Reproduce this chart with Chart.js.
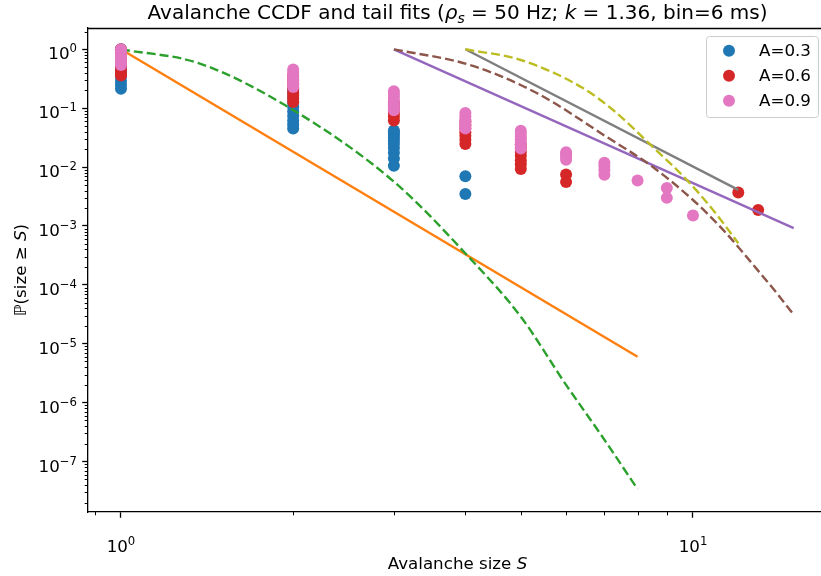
<!DOCTYPE html>
<html>
<head>
<meta charset="utf-8">
<script src="https://cdn.jsdelivr.net/npm/chart.js@4.4.0/dist/chart.umd.min.js"></script>
<style>
  html, body { margin: 0; padding: 0; background: #fff; overflow: hidden; }
  #wrap { width: 821px; height: 576px; overflow: hidden; position: relative; }
  canvas { display: block; position: absolute; left: 0; top: 0; }
</style>
</head>
<body>
<div id="wrap"><canvas id="ccdf" width="840" height="576"></canvas></div>
<script>
// Empirical CCDF, one column of values per avalanche size
var sizesA03 = [1, 2, 3, 4];
var ccdfA03 = [
  [1.0, 0.85, 0.72, 0.6, 0.5, 0.42, 0.35, 0.29, 0.25, 0.214],
  [0.21, 0.18, 0.15, 0.125, 0.105, 0.088, 0.074, 0.062, 0.053, 0.045],
  [0.042, 0.0386, 0.0351, 0.0316, 0.0281, 0.0246, 0.0211, 0.0175, 0.014, 0.0105],
  [0.007, 0.0035]
];
var sizesA06 = [1, 2, 3, 4, 5, 6, 12, 13];
var ccdfA06 = [
  [1.0, 0.85, 0.72, 0.61, 0.52, 0.44, 0.38, 0.359],
  [0.357, 0.3, 0.26, 0.22, 0.19, 0.165, 0.145, 0.127],
  [0.125, 0.11, 0.095, 0.083, 0.072, 0.062],
  [0.06, 0.052, 0.045, 0.039, 0.034, 0.029, 0.0247],
  [0.0243, 0.021, 0.018, 0.0155, 0.013, 0.0112, 0.0093],
  [0.0075, 0.0056],
  [0.0037],
  [0.00187]
];
var sizesA09 = [1, 2, 3, 4, 5, 6, 7, 8, 9, 10];
var ccdfA09 = [
  [1.0, 0.9, 0.8, 0.72, 0.65, 0.59, 0.54],
  [0.452, 0.4, 0.36, 0.32, 0.285, 0.255, 0.229],
  [0.194, 0.17, 0.15, 0.13, 0.115, 0.102, 0.092],
  [0.083, 0.073, 0.064, 0.057, 0.05, 0.045],
  [0.0415, 0.037, 0.033, 0.0296, 0.0267, 0.0237, 0.0207],
  [0.0178, 0.0163, 0.0148, 0.0133],
  [0.0119, 0.0104, 0.0089, 0.0074],
  [0.0059],
  [0.0044, 0.003],
  [0.0015]
];

// Tail fits: power law (solid) and exponential-type (dashed)
var powS_A03 = [1, 8];
var powP_A03 = [1.0, 6.0e-6];
var expS_A03 = [1, 1.37, 2, 3, 4.1, 5, 6, 6.88, 8];
var expP_A03 = [1.0, 0.578, 0.093, 5.65e-3, 2.65e-4, 2.88e-5, 2.0e-6, 3.0e-7, 3.4e-8];

var powS_A06 = [3, 15];
var powP_A06 = [1.0, 9.2e-4];
var expS_A06 = [3, 4.08, 5.33, 7.07, 8.51, 10, 11.3, 13.1, 14, 15];
var expP_A06 = [1.0, 0.54, 0.181, 0.0324, 0.01, 2.76e-3, 8.5e-4, 1.59e-4, 7.3e-5, 3.1e-5];

var powS_A09 = [4, 12];
var powP_A09 = [1.0, 4.1e-3];
var expS_A09 = [4, 5, 6.42, 7.25, 8.51, 9.76, 10.84, 12];
var expP_A09 = [1.0, 0.658, 0.22, 0.093, 0.0219, 6.0e-3, 1.87e-3, 5.1e-4];

var legendLabels = ["A=0.3", "A=0.6", "A=0.9"];
var xMajorTicks = [1, 10];
var yMajorTicks = [1e-7, 1e-6, 1e-5, 1e-4, 1e-3, 1e-2, 1e-1, 1];

var FONT = "'DejaVu Sans', sans-serif";
var FS = 16.7;

function columnPoints(sizes, cols) {
  var pts = [];
  sizes.forEach(function (s, i) {
    cols[i].forEach(function (p) { pts.push({ x: s, y: p }); });
  });
  return pts;
}

function linePoints(xs, ys) {
  return xs.map(function (x, i) { return { x: x, y: ys[i] }; });
}

function scatterSet(label, color, pts, order) {
  return {
    label: label, data: pts, showLine: false, order: order,
    pointRadius: 6, pointHoverRadius: 6, pointBorderWidth: 0,
    pointBackgroundColor: color, backgroundColor: color, borderColor: color
  };
}

function fitSet(color, pts, dashed, order) {
  return {
    label: "", data: pts, showLine: true, order: order,
    borderColor: color, borderWidth: 2.4, borderDash: dashed ? [9, 4] : [],
    pointRadius: 0, fill: false, cubicInterpolationMode: dashed ? "monotone" : "default"
  };
}

// rich text: parts are [text, italic, shift] where shift is "sub" or "sup"
function richWidth(ctx, parts, size) {
  return parts.reduce(function (w, p) {
    var fs = p[2] ? size * 0.7 : size;
    ctx.font = (p[1] ? "italic " : "") + fs + "px " + FONT;
    return w + ctx.measureText(p[0]).width;
  }, 0);
}

function drawRich(ctx, parts, x, baseline, size, align) {
  var total = richWidth(ctx, parts, size);
  if (align === "center") x -= total / 2;
  if (align === "right") x -= total;
  ctx.textAlign = "left";
  ctx.textBaseline = "alphabetic";
  parts.forEach(function (p) {
    var fs = p[2] ? size * 0.7 : size;
    var dy = p[2] === "sub" ? size * 0.2 : (p[2] === "sup" ? -size * 0.42 : 0);
    ctx.font = (p[1] ? "italic " : "") + fs + "px " + FONT;
    ctx.fillText(p[0], x, baseline + dy);
    x += ctx.measureText(p[0]).width;
  });
}

function decadeParts(v) {
  var e = String(Math.round(Math.log10(v))).replace("-", "\u2212");
  return [["10", false, null], [e, false, "sup"]];
}

var mplDecor = {
  id: "mplDecor",
  afterDraw: function (chart) {
    var ctx = chart.ctx, a = chart.chartArea;
    var xs = chart.scales.x, ys = chart.scales.y;
    ctx.save();
    ctx.strokeStyle = "#000";
    ctx.lineWidth = 1.3;
    ctx.beginPath();
    ctx.moveTo(a.left, Math.round(a.top) + 0.5);
    ctx.lineTo(a.right, Math.round(a.top) + 0.5);
    ctx.stroke();

    // minor ticks
    ctx.lineWidth = 1;
    ctx.beginPath();
    for (var d = -1; d <= 1; d++) {
      for (var k = 2; k <= 9; k++) {
        var v = k * Math.pow(10, d);
        if (v < xs.min || v > xs.max) continue;
        var px = Math.round(xs.getPixelForValue(v)) + 0.5;
        ctx.moveTo(px, a.bottom);
        ctx.lineTo(px, a.bottom + 3.3);
      }
    }
    for (d = -9; d <= 0; d++) {
      for (k = 2; k <= 9; k++) {
        v = k * Math.pow(10, d);
        if (v < ys.min || v > ys.max) continue;
        var py = Math.round(ys.getPixelForValue(v)) + 0.5;
        ctx.moveTo(a.left, py);
        ctx.lineTo(a.left - 3.3, py);
      }
    }
    ctx.stroke();

    // decade tick labels
    ctx.fillStyle = "#000";
    xMajorTicks.forEach(function (v) {
      drawRich(ctx, decadeParts(v), xs.getPixelForValue(v), 552, FS, "center");
    });
    yMajorTicks.forEach(function (v) {
      drawRich(ctx, decadeParts(v), a.left - 11, ys.getPixelForValue(v) + 10, FS, "right");
    });

    // title and axis labels
    var cx = (a.left + a.right) / 2;
    drawRich(ctx, [["Avalanche CCDF and tail fits (", false, null], ["\u03C1", true, null],
      ["s", true, "sub"], [" = 50 Hz; ", false, null], ["k", true, null],
      [" = 1.36, bin=6 ms)", false, null]], cx, 18.5, 20, "center");
    drawRich(ctx, [["Avalanche size ", false, null], ["S", true, null]], cx, 569, FS, "center");
    ctx.save();
    ctx.translate(25.5, (a.top + a.bottom) / 2);
    ctx.rotate(-Math.PI / 2);
    drawRich(ctx, [["\u2119(size \u2265 ", false, null], ["S", true, null], [")", false, null]], 0, 0, FS, "center");
    ctx.restore();

    // legend
    var colors = ["#1f77b4", "#d62728", "#e377c2"];
    var bx = 706, by = 36, bw = 112, bh = 81;
    ctx.fillStyle = "rgba(255,255,255,0.8)";
    ctx.strokeStyle = "#cccccc";
    ctx.lineWidth = 1;
    ctx.beginPath();
    ctx.roundRect(bx + 0.5, by + 0.5, bw, bh, 3);
    ctx.fill();
    ctx.stroke();
    legendLabels.forEach(function (lab, i) {
      var ry = 50.7 + i * 25;
      ctx.fillStyle = colors[i];
      ctx.beginPath();
      ctx.arc(729, ry, 6, 0, Math.PI * 2);
      ctx.fill();
      ctx.fillStyle = "#000";
      ctx.font = FS + "px " + FONT;
      ctx.textAlign = "left";
      ctx.textBaseline = "middle";
      ctx.fillText(lab, 759, ry + 1);
    });
    ctx.restore();
  }
};

new Chart(document.getElementById("ccdf"), {
  type: "scatter",
  data: {
    datasets: [
      scatterSet(legendLabels[0], "#1f77b4", columnPoints(sizesA03, ccdfA03), 9),
      fitSet("#ff7f0e", linePoints(powS_A03, powP_A03), false, 8),
      fitSet("#2ca02c", linePoints(expS_A03, expP_A03), true, 7),
      scatterSet(legendLabels[1], "#d62728", columnPoints(sizesA06, ccdfA06), 6),
      fitSet("#9467bd", linePoints(powS_A06, powP_A06), false, 5),
      fitSet("#8c564b", linePoints(expS_A06, expP_A06), true, 4),
      scatterSet(legendLabels[2], "#e377c2", columnPoints(sizesA09, ccdfA09), 3),
      fitSet("#7f7f7f", linePoints(powS_A09, powP_A09), false, 2),
      fitSet("#bcbd22", linePoints(expS_A09, expP_A09), true, 1)
    ]
  },
  options: {
    responsive: false,
    animation: false,
    events: [],
    devicePixelRatio: 1,
    // the axes run a few pixels past the visible right edge
    layout: { padding: { left: 0, top: 28, right: 13, bottom: 0 } },
    plugins: { legend: { display: false }, tooltip: { enabled: false }, title: { display: false } },
    scales: {
      x: {
        type: "logarithmic",
        min: 0.8757, max: 17.15,
        afterBuildTicks: function (s) { s.ticks = xMajorTicks.map(function (v) { return { value: v, major: true }; }); },
        afterFit: function (s) { s.height = 64; },
        grid: { drawOnChartArea: false, tickLength: 5.8, tickColor: "#000", tickWidth: 1.3 },
        border: { display: true, color: "#000", width: 1.3 },
        ticks: { display: false }
      },
      y: {
        type: "logarithmic",
        min: 1.39e-8, max: 2.30,
        afterBuildTicks: function (s) { s.ticks = yMajorTicks.map(function (v) { return { value: v, major: true }; }); },
        afterFit: function (s) { s.width = 88; },
        grid: { drawOnChartArea: false, tickLength: 5.8, tickColor: "#000", tickWidth: 1.3 },
        border: { display: true, color: "#000", width: 1.3 },
        ticks: { display: false }
      }
    }
  },
  plugins: [mplDecor]
});
</script>
</body>
</html>
